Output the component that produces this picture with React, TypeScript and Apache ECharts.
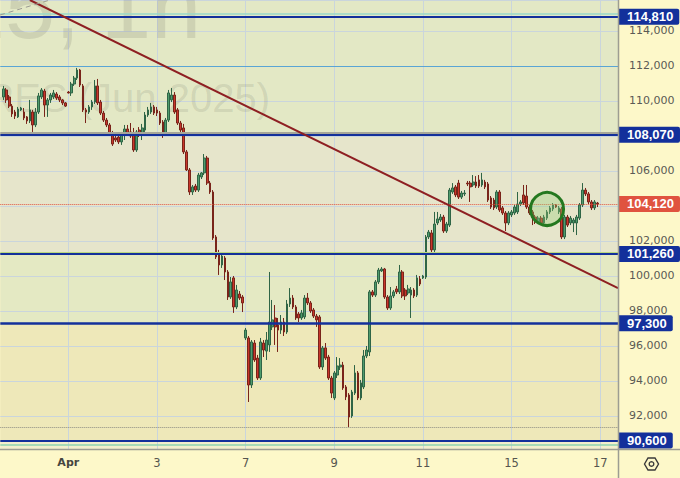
import React, { useEffect, useRef } from 'react';
import * as echarts from 'echarts';

// OHLC: [open, close, low, high]
const candles: number[][] = [
  [110230,110690,110060,110860],[110630,110060,109890,110740],[110230,109710,109600,110340],[109710,109260,109090,109830],
  [109370,109140,108970,109490],[109090,109540,109030,109660],[109490,109600,109430,109660],[109370,109030,108910,109600],
  [109090,108860,108690,109140],[108860,109490,108740,110060],[109370,108630,108230,109490],[108630,109370,108510,109600],
  [109370,110290,109260,110460],[110230,110630,110110,110740],[110570,109770,109090,110690],[109770,110060,109090,110170],
  [110060,110340,109890,110460],[110230,110460,110110,110630],[110400,110170,110060,110510],[110230,110060,109940,110340],
  [110060,109890,109770,110110],[109890,109710,109660,109940],
  [110510,110460,110430,110570],[110460,110970,110290,111090],[110970,111310,110860,111430],[111310,111770,111200,111890],
  [111770,110910,110800,111830],[110860,109490,109370,110970],[109490,109370,108740,109600],[109370,109660,109260,109770],
  [109660,109940,109490,110060],[109940,110860,109830,111200],[110860,109890,109770,111260],[109940,109310,109200,110060],
  [109310,108910,108800,109430],[108910,108630,108510,109030],[108630,108170,108060,108740],[108170,107540,107430,108290],
  [107890,107770,107660,108060],[107940,107660,107540,108110],[107660,108060,107490,108230],[108060,108400,107770,108630],
  [108400,108170,108000,108630],[108230,108000,107890,108740],[108170,107200,107090,108460],[107200,108230,107090,108340],
  [108340,108060,107940,108510],[108060,108460,107770,108690],[108340,109200,108230,109370],[109200,109490,109090,109660],
  [109370,109660,109260,109890],[109660,109310,109200,109770],
  [109490,109310,109140,109660],[109310,108740,108630,109430],[108800,108170,107890,108910],[108170,108910,108060,109030],
  [108910,110460,108800,110630],[110060,110340,109940,110740],[110340,109370,109260,110510],[109490,108740,108630,109600],
  [108740,108340,108230,108860],[108460,107090,106970,108690],[107090,106060,106000,107200],[106060,104800,104630,106170],
  [104800,105090,104630,105200],[105140,104910,104800,105260],[104910,105770,104800,105890],[105660,105890,105540,105940],
  [105890,106740,105770,106970],[106740,105310,105200,106860],[105310,104800,104690,105430],[104800,102170,102060,104910],
  [102230,101090,100970,102340],[101200,100630,100060,101490],[100630,101140,100460,101370],[101030,100230,99770,101140],
  [100230,98800,98630,100340],[98800,99660,98690,99940],[99890,98230,97890,100000],[98230,99200,98110,99490],
  [98970,98740,98630,99140],[98800,98460,97940,98910],
  [96460,96910,96340,97030],[96460,93770,92800,96570],[93770,96230,93600,96340],[96170,95200,95090,96340],
  [95310,94170,94060,95490],[94170,96230,94060,96460],[96170,95770,95370,96340],[95710,96340,95200,96800],
  [96060,97370,95660,100230],[97090,97490,96910,98630],[97600,97090,96060,98340],[97200,96910,95660,97600],
  [96910,97370,96690,97770],[97370,96800,96570,97600],[96800,98400,96690,98630],[98400,98740,98230,99310],
  [98740,98230,98110,98910],[98230,97600,97490,98340],[97830,97600,97370,97940],[97600,97890,97490,98060],
  [97660,98740,97540,98910],[98740,98460,98340,99030],[98460,98000,97890,98570],[98060,97710,97600,98170],
  [97710,97490,97090,97830],[97660,94800,94690,97770],[94800,95890,94630,96000],[95890,95310,95200,96170],
  [95370,94170,94060,95490],[94170,93310,93030,94290],
  [93030,94460,92910,94570],[94340,94860,94170,95370],[94800,94910,94630,95310],[94910,93600,93490,95090],
  [93660,93090,92910,93770],[93200,91940,91370,93310],[92000,93370,91890,93490],[93310,94460,93200,94910],
  [94460,93030,92910,94570],[93030,93890,92910,94060],[93660,95430,93540,95770],[95430,95770,95310,96000],
  [95660,99090,95430,99200],[99090,98910,98800,99200],[98910,99660,98800,99770],[99660,100340,99540,100460],
  [100290,100400,100230,100510],[100400,98800,98690,100460],[98800,98170,98060,98910],[98170,98860,98060,99370],
  [98860,99090,98740,99200],[99260,99090,98970,99430],[99090,100230,98970,100630],[100230,98860,98740,100340],
  [99200,98860,98630,99310],[99030,99260,98910,99490],[98910,99200,97600,99370],[99200,98860,98740,99310],
  [98910,99890,98800,100060],[99830,99540,99430,100000],
  [99890,100000,99830,100060],[99940,102230,99830,102340],[102230,102510,102110,102630],[102460,101490,101370,102630],
  [101490,102970,101370,103660],[103030,103260,102910,103660],[103200,103370,103090,103540],[103370,102570,102460,103490],
  [102570,102970,102460,103090],[102910,104910,102800,105030],[104800,105030,104690,105310],[105090,104630,104510,105200],
  [105310,104510,104400,105490],[104510,104740,104400,104860],[104690,104740,104570,104910],[105310,105260,105140,105430],
  [105310,105090,104230,105430],[105200,105370,105090,105770],[105370,105140,105030,105710],[105490,105140,105030,105770],
  [105200,105490,105090,105890],[105370,105090,104970,105490],[105260,104340,104230,105370],[104460,103940,103830,104570],
  [104340,103890,103770,104460],[103940,104800,103830,104910],[104800,103770,103660,104910],[103890,103600,103490,104000],
  [103600,103030,102570,103710],[103030,103600,102910,103710],
  [103490,103660,103370,103770],[103600,103940,103490,104060],[103660,104110,103540,104800],[104110,104230,104000,104340],
  [104630,104170,104060,105200],[104570,103940,103830,105200],[103940,103600,103490,104060],[103660,103370,102910,103770],
  [103370,103090,102970,103490],[103090,103310,102970,103430],[103310,103030,102910,103430],[103030,103370,102910,103490],
  [103310,103660,103200,103770],[103660,103890,103540,104000],[103830,104060,103710,104170],[104060,103940,103890,104110],
  [103660,103890,103540,104000],[103830,102230,102110,103940],[102230,103370,102110,103490],[103370,102910,102800,103490],
  [103030,103310,102910,103430],[103030,103200,102510,103310],[103030,103370,102340,103490],[103310,104060,103200,104170],
  [104060,104910,103940,105310],[104910,104690,104570,105030],[104690,104230,104110,104800],[104230,103890,103770,104340],
  [103890,104230,103770,104340],[104170,104120,103940,104230],
];

const categoryCount = 210;
const dayTickIndex = [23, 53, 83, 113, 143, 173, 203];
const dayTickLabels = ['Apr', '3', '7', '9', '11', '15', '17'];

const levelValues = [114810, 108070, 101260, 97300, 90600];
const levelLabels = ['114,810', '108,070', '101,260', '97,300', '90,600'];
const lastPrice = 104120;
const lastPriceLabel = '104,120';
const blueLevel = 112000;
const cyanLevel = 114970;
const grayLevel = 108160;
const greenLevel = 101320;
const tealLevel = 90370;
const lowDotted = 91370;
const trendFrom = [10, 115771];
const trendTo = [209, 99310];
const circleAt = [185, 103830];
const yMin = 90114;
const yMax = 115771;

const FONT = '"Liberation Sans", Arial, sans-serif';
const AXIS_FONT = '"DejaVu Sans", Verdana, sans-serif';
const NAVY = '#13309b';
const RED_TAG = '#e0533f';

function buildOption() {
  const categories = Array.from({ length: categoryCount }, (_, i) => 'c' + i);
  const seriesData: any[] = [['-', '-', '-', '-'], ...candles];
  const isTick = (i: number) => dayTickIndex.indexOf(i) >= 0;

  const tag = (text: string, bg: string) => ({
    show: true,
    position: 'end',
    distance: 1,
    formatter: text,
    color: '#ffffff',
    fontWeight: 'bold',
    fontSize: 13,
    fontFamily: FONT,
    backgroundColor: bg,
    padding: [1, 6, 1, 8],
    lineHeight: 14,
    borderRadius: [0, 2, 2, 0],
  });

  const plainLine = (v: number, color: string, width: number, type = 'solid') => ({
    yAxis: v,
    lineStyle: { color, width, type },
    label: { show: false },
  });

  const markLineData: any[] = [
    plainLine(cyanLevel, '#98d8c8', 1.5),
    plainLine(blueLevel, '#5aa5d5', 1),
    plainLine(grayLevel, '#a6a698', 2),
    plainLine(greenLevel, '#b9d880', 2),
    plainLine(tealLevel, '#8fd4b0', 1.5),
    plainLine(lowDotted, '#8c8c84', 1, 'dotted'),
    {
      yAxis: lastPrice,
      lineStyle: { color: RED_TAG, width: 1, type: 'dotted' },
      label: tag(lastPriceLabel, RED_TAG),
    },
    ...levelValues.map((v, k) => ({
      yAxis: v,
      lineStyle: { color: NAVY, width: v === 97300 ? 2.5 : 2, type: 'solid' },
      label: tag(levelLabels[k], NAVY),
    })),
    [
      { coord: trendFrom, lineStyle: { color: '#8e1f22', width: 2, type: 'solid' }, label: { show: false } },
      { coord: trendTo, lineStyle: { color: '#8e1f22', width: 2, type: 'solid' } },
    ],
  ];

  const band = (from: number, to: number, color: string) => [
    { yAxis: from, itemStyle: { color, opacity: 1 } },
    { yAxis: to },
  ];

  return {
    animation: false,
    backgroundColor: '#fdf8c9',
    textStyle: { fontFamily: FONT },
    grid: { left: 0.3, right: 62, top: 0, bottom: 29, containLabel: false },
    xAxis: {
      type: 'category',
      data: categories,
      boundaryGap: false,
      z: 2,
      axisLine: { show: false },
      axisTick: { show: false },
      axisLabel: {
        interval: (i: number) => isTick(i),
        formatter: (_v: string, i: number) => {
          const k = dayTickIndex.indexOf(i);
          if (k < 0) return '';
          return k === 0 ? '{b|' + dayTickLabels[k] + '}' : dayTickLabels[k];
        },
        color: '#55554f',
        fontSize: 11.5,
        fontFamily: AXIS_FONT,
        margin: 8,
        rich: { b: { fontWeight: 'bold', color: '#45453f', fontSize: 11, fontFamily: AXIS_FONT } },
      },
      splitLine: {
        show: true,
        interval: (i: number) => isTick(i),
        lineStyle: { color: '#cad5dc', width: 1 },
      },
    },
    yAxis: {
      type: 'value',
      position: 'right',
      min: yMin,
      max: yMax,
      splitNumber: 13,
      minInterval: 2000,
      maxInterval: 2000,
      z: 2,
      axisLine: { show: false },
      axisTick: { show: false },
      axisLabel: {
        margin: 11,
        color: '#5a5a55',
        fontSize: 11,
        fontFamily: AXIS_FONT,
        showMinLabel: false,
        showMaxLabel: false,
        formatter: (v: number) => v.toLocaleString('en-US'),
      },
      splitLine: { show: true, lineStyle: { color: '#cad5dc', width: 1 } },
    },
    series: [
      {
        type: 'candlestick',
        z: 4,
        data: seriesData,
        barWidth: 2.2,
        itemStyle: {
          color: '#4f9b6c',
          color0: '#c9362b',
          borderColor: '#2f6546',
          borderColor0: '#79241a',
          borderWidth: 1,
        },
        markArea: {
          silent: true,
          label: { show: false },
          data: [
            band(108070, yMax, '#e3e8c5'),
            band(101260, 108070, '#e6e5cb'),
            band(97300, 101260, '#e4e9c3'),
            band(90600, 97300, '#eee8b9'),
            band(yMin, 90600, '#f3efcc'),
          ],
        },
        markLine: {
          silent: true,
          symbol: ['none', 'none'],
          label: { show: false },
          data: markLineData,
        },
        markPoint: {
          silent: true,
          symbol: 'circle',
          symbolSize: 33,
          label: { show: false },
          itemStyle: { color: 'rgba(150,205,120,0.35)', borderColor: '#24781f', borderWidth: 3 },
          data: [{ coord: circleAt }],
        },
      },
    ],
    graphic: [
      {
        type: 'text', z: 3, silent: true, x: 80, y: 52,
        style: { text: 'BTCM2025,', textAlign: 'right', textVerticalAlign: 'bottom', font: '90px ' + FONT, fill: 'rgba(90,90,80,0.15)' },
      },
      {
        type: 'text', z: 3, silent: true, x: 201, y: 52,
        style: { text: '1h', textAlign: 'right', textVerticalAlign: 'bottom', font: '90px ' + FONT, fill: 'rgba(90,90,80,0.15)' },
      },
      {
        type: 'text', z: 3, silent: true, x: 270, y: 118,
        style: { text: 'BITCOIN FUTURES (Jun 2025)', textAlign: 'right', textVerticalAlign: 'bottom', font: '40px ' + FONT, fill: 'rgba(90,90,80,0.15)' },
      },
      {
        type: 'line', z: 6, silent: true,
        shape: { x1: 0, y1: 15, x2: 50, y2: 0 },
        style: { stroke: '#9a9a92', lineWidth: 1, lineDash: [5, 4] },
      },
      {
        type: 'line', z: 10, silent: true,
        shape: { x1: 618.5, y1: 0, x2: 618.5, y2: 478 },
        style: { stroke: '#9d9d92', lineWidth: 1.5 },
      },
      {
        type: 'line', z: 10, silent: true,
        shape: { x1: 0, y1: 449.5, x2: 680, y2: 449.5 },
        style: { stroke: '#9d9d92', lineWidth: 1.5 },
      },
      {
        type: 'polygon', z: 10, silent: true,
        shape: { points: [[644.5, 464], [648, 458], [655, 458], [658.5, 464], [655, 470], [648, 470]] },
        style: { fill: 'none', stroke: '#3a3a3a', lineWidth: 1.4 },
      },
      {
        type: 'circle', z: 10, silent: true,
        shape: { cx: 651.5, cy: 464, r: 2.3 },
        style: { fill: 'none', stroke: '#3a3a3a', lineWidth: 1.4 },
      },
    ],
  };
}

export default function App() {
  const ref = useRef<HTMLDivElement>(null);
  useEffect(() => {
    if (!ref.current) return;
    const chart = echarts.init(ref.current, null, { renderer: 'svg' });
    chart.setOption(buildOption() as any);
    return () => chart.dispose();
  }, []);
  return <div ref={ref} style={{ position: 'fixed', left: 0, top: 0, width: 680, height: 478 }} />;
}
